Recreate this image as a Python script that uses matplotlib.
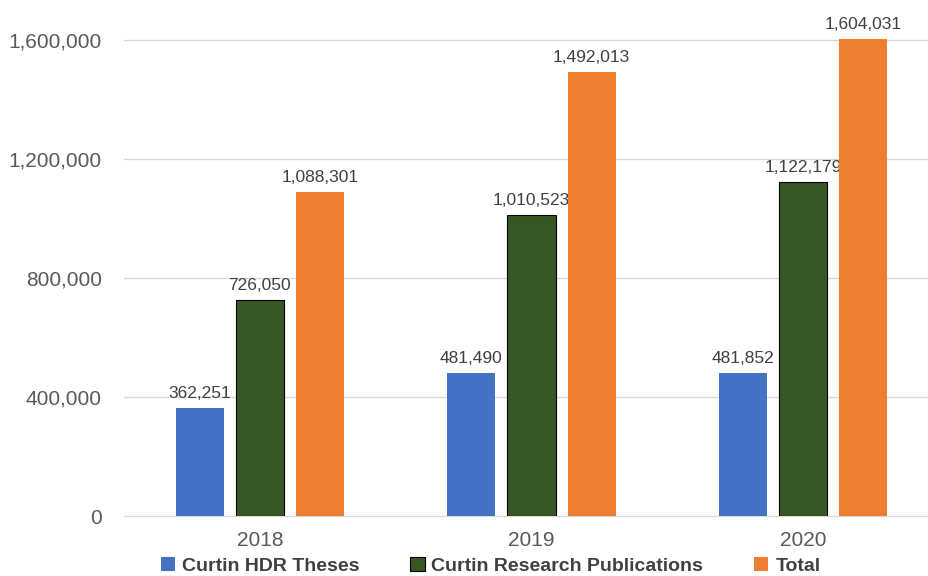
import matplotlib
matplotlib.use("Agg")
import matplotlib.pyplot as plt
import numpy as np
from matplotlib.ticker import FuncFormatter

plt.rcParams['font.family'] = ['Liberation Sans', 'DejaVu Sans']

years = ["2018", "2019", "2020"]
series_names = ["Curtin HDR Theses", "Curtin Research Publications", "Total"]
hdr_theses = [362251, 481490, 481852]
research_pubs = [726050, 1010523, 1122179]
totals = [1088301, 1492013, 1604031]
y_ticks = [0, 400000, 800000, 1200000, 1600000]

colors = ["#4472C4", "#375623", "#ED7D31"]
edges = ["none", "#000000", "none"]

W, H = 929, 576
fig = plt.figure(figsize=(W / 100, H / 100), dpi=100)
ax = fig.add_axes([124 / W, (H - 516) / H, (939 - 124) / W, 516 / H])

x = np.arange(len(years))
offset = 60 / 271.5
width = 48 / 271.5
all_series = [hdr_theses, research_pubs, totals]
for i, (vals, name) in enumerate(zip(all_series, series_names)):
    bars = ax.bar(x + (i - 1) * offset, vals, width, color=colors[i],
                  edgecolor=edges[i], linewidth=0.8 if edges[i] != "none" else 0,
                  label=name, zorder=3)
    for b, v in zip(bars, vals):
        ax.annotate(f"{v:,}", (b.get_x() + b.get_width() / 2, v),
                    xytext=(0, 5), textcoords="offset points",
                    ha="center", va="bottom", fontsize=12.5, color="#404040")

ax.set_xlim(-0.5, 2.5)
ax.set_ylim(0, 1600000 + 40 / 119 * 400000)
ax.set_yticks(y_ticks)
ax.yaxis.set_major_formatter(FuncFormatter(lambda v, p: f"{int(v):,}"))
ax.set_xticks(x)
ax.set_xticklabels(years)
ax.tick_params(axis="both", length=0, labelsize=15, labelcolor="#595959")
ax.tick_params(axis="y", pad=16)
ax.tick_params(axis="x", pad=11)
ax.grid(axis="y", color="#D9D9D9", linewidth=1, zorder=0)
for s in ["top", "right", "left"]:
    ax.spines[s].set_visible(False)
ax.spines["bottom"].set_color("#D9D9D9")

leg = fig.legend(loc="lower center", bbox_to_anchor=(0.528, -0.028), ncol=3,
                 frameon=False, handlelength=0.75, handleheight=0.75,
                 handletextpad=0.35, columnspacing=2.6,
                 prop={"weight": "bold", "size": 14})
for t in leg.get_texts():
    t.set_color("#404040")

fig.savefig("out.png", dpi=100)
